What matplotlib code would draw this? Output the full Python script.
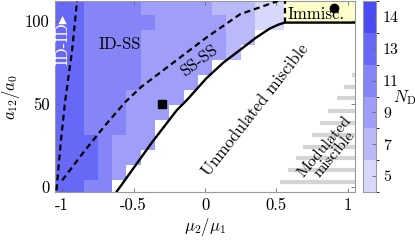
import numpy as np
import matplotlib
matplotlib.use("Agg")
import matplotlib.pyplot as plt
from matplotlib.colors import ListedColormap, BoundaryNorm

plt.rcParams["font.family"] = "serif"
plt.rcParams["font.serif"] = ["cmr10"]
plt.rcParams["mathtext.fontset"] = "cm"
plt.rcParams["axes.unicode_minus"] = False

# ---- data ----
mu_centers = [-1.0, -0.9, -0.8, -0.7, -0.6, -0.5, -0.4, -0.3,
              -0.2, -0.1, 0.0, 0.1, 0.2, 0.3, 0.4, 0.5]
a12_centers = [0, 9, 18, 27, 36, 45, 54, 63, 72, 81, 90, 99, 108]

N = np.nan
nd_grid = [
    [13, 13, 11, 11, N, N, N, N, N, N, N, N, N, N, N, N],
    [13, 13, 13, 11, 9, N, N, N, N, N, N, N, N, N, N, N],
    [13, 13, 13, 11, 9, 9, N, N, N, N, N, N, N, N, N, N],
    [13, 13, 13, 11, 9, 9, 9, N, N, N, N, N, N, N, N, N],
    [13, 13, 11, 11, 11, 9, 9, N, N, N, N, N, N, N, N, N],
    [13, 13, 11, 11, 11, 9, 9, 9, N, N, N, N, N, N, N, N],
    [13, 13, 11, 11, 11, 9, 9, 9, 9, N, N, N, N, N, N, N],
    [13, 13, 11, 11, 11, 11, 9, 9, 9, 9, N, N, N, N, N, N],
    [13, 13, 11, 11, 11, 11, 9, 9, 9, 9, 9, N, N, N, N, N],
    [13, 13, 11, 11, 11, 11, 9, 9, 9, 9, 9, 9, 7, N, N, N],
    [13, 13, 11, 11, 11, 11, 9, 9, 9, 9, 9, 9, 7, 7, N, N],
    [13, 13, 11, 11, 11, 11, 11, 9, 9, 9, 9, 9, 7, 7, 5, 5],
    [13, 13, 11, 11, 11, 11, 9, 9, 9, 9, 9, 7, 7, 7, 5, 5],
]
nd_levels = [5, 7, 9, 11, 13, 14]
nd_colors = ["#d8d8fc", "#babafa", "#9f9ff9", "#8585f8", "#6868f7", "#4b4bf3"]

# phase boundaries
idid_x = [-1.04, -1.01, -0.98, -0.93, -0.895]
idid_y = [-2, 26.5, 51, 82.5, 112.6]
ss_x = [-1.0, -0.85, -0.7, -0.56, -0.45, -0.22, 0.01, 0.245, 0.51]
ss_y = [4, 21, 37, 51, 60, 75, 90, 104, 112]
misc_x = [-0.62, -0.37, -0.2, -0.12, 0.01, 0.13, 0.245, 0.35, 0.455, 0.52, 0.56, 1.05]
misc_y = [-3, 27, 46, 53, 65.5, 75, 82.5, 89.5, 95.5, 98, 99, 99]
immisc_x = [0.56, 1.05]
immisc_y = [99, 112]

# modulated-miscible stripes
mod_edge_x = [0.5, 1.05]
mod_edge_y = [0, 70]
stripe_y = [3.0, 10.2, 17.5, 24.1, 31.3, 38.6, 45.8, 53.6, 60.2, 67.5]

square_pt = (-0.3, 50)
circle_pt = (0.9, 108)

# ---- figure ----
fig = plt.figure(figsize=(4.15, 2.4), dpi=100)
ax = fig.add_axes([55 / 415, 48 / 240, 300 / 415, 191 / 240])
cax = fig.add_axes([363 / 415, 48 / 240, 13 / 415, 191 / 240])

nd = np.array(nd_grid, dtype=float)
idx = np.where(np.isnan(nd), np.nan,
               np.searchsorted(nd_levels, np.nan_to_num(nd)))
cmap = ListedColormap(nd_colors)
norm = BoundaryNorm(np.arange(-0.5, len(nd_levels)), len(nd_levels))
mesh = ax.pcolormesh(mu_centers, a12_centers, np.ma.masked_invalid(idx),
                     cmap=cmap, norm=norm, shading="nearest",
                     edgecolors="none", antialiased=False, zorder=1)

# immiscible box
ax.fill_between(immisc_x, immisc_y[0], immisc_y[1], color="#ffffcc", zorder=1)
ax.plot([immisc_x[0], immisc_x[0]], immisc_y, color="k", lw=1.6,
        ls=(0, (2.5, 1.8)), zorder=3)

# stripes
xs = np.interp(stripe_y, mod_edge_y, mod_edge_x)
ax.hlines(stripe_y, xs, 1.05, color="#d5d5d5", lw=3.0, zorder=1)

ax.plot(idid_x, idid_y, color="k", lw=1.6, ls=(0, (2.7, 1.8)), zorder=3)
ax.plot(ss_x, ss_y, color="k", lw=1.6, ls=(0, (2.7, 1.8)), zorder=3)
ax.plot(misc_x, misc_y, color="k", lw=1.7, zorder=3)

ax.plot(*square_pt, marker="s", color="k", ms=5.5, zorder=4)
ax.plot(*circle_pt, marker="o", color="k", ms=6, zorder=4)

# labels in the diagram
ax.text(-0.997, 89, "ID-ID\u25B8", rotation=90, color="white", fontsize=12,
        ha="center", va="center", family=["cmr10", "DejaVu Sans"], zorder=5)
ax.text(-0.594, 86, "ID-SS", fontsize=12, ha="center", va="center", zorder=5)
ax.text(-0.04, 76, "SS-SS", fontsize=12, rotation=37, ha="center",
        va="center", rotation_mode="anchor", zorder=5)
ax.text(0.35, 46.5, "Unmodulated miscible", fontsize=12, rotation=52,
        ha="center", va="center", rotation_mode="anchor", zorder=5)
ax.text(0.87, 22, "Modulated\nmiscible", fontsize=11.5, rotation=50,
        ha="center", va="center", rotation_mode="anchor",
        linespacing=0.85, zorder=5)
ax.text(0.776, 104, "Immisc.", fontsize=12, ha="center", va="center", zorder=5)

ax.set_xlim(-1.05, 1.05)
ax.set_ylim(-3, 112)
ax.set_xticks([-1, -0.5, 0, 0.5, 1])
ax.set_xticklabels(["-1", "-0.5", "0", "0.5", "1"])
ax.set_yticks([0, 50, 100])
ax.set_yticklabels(["0", "50", "100"])
ax.tick_params(direction="in", top=True, right=True, length=3, width=0.6,
               color="#666666", labelsize=12, pad=4)
for s in ax.spines.values():
    s.set_color("#999999")
    s.set_linewidth(0.8)
ax.set_xlabel(r"$\mu_2/\mu_1$", fontsize=12, labelpad=2)
ax.set_ylabel(r"$a_{12}/a_0$", fontsize=12, labelpad=2)

cb = fig.colorbar(mesh, cax=cax, ticks=range(len(nd_levels)))
cb.set_ticklabels([str(v) for v in nd_levels])
cb.outline.set_edgecolor("#999999")
cb.outline.set_linewidth(0.8)
cax.tick_params(direction="in", length=3, width=0.6, color="#666666",
                labelsize=11.5, pad=5)
cax.text(3.2, 0.495, r"$N_{\mathrm{D}}$", transform=cax.transAxes,
         fontsize=12, ha="center", va="center")

fig.savefig("out.png", dpi=100)
